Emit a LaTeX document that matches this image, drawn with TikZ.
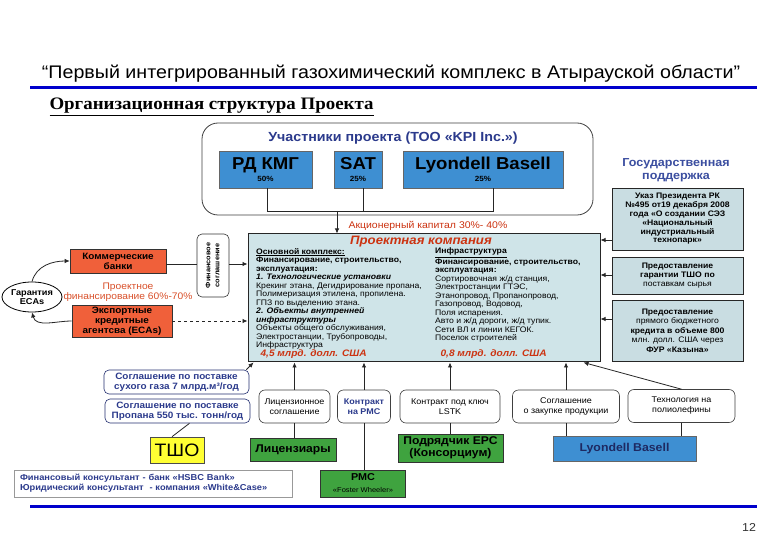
\documentclass[tikz,border=0pt]{standalone}
\usepackage{fontspec}
\usepackage{graphicx}
\setmainfont{Liberation Sans}[FakeStretch=1.08]
\newfontfamily\serifbold{Liberation Serif}[FakeStretch=1.08]
\usetikzlibrary{arrows.meta,shapes.geometric,calc}
\newcommand\myfs[2]{\fontsize{#1}{#2}\selectfont}
\definecolor{partblue}{HTML}{3E8FD2}
\definecolor{navy}{HTML}{2B3A8C}
\definecolor{govtxt}{HTML}{3B4EA0}
\definecolor{pcfill}{HTML}{CFE4E8}
\definecolor{govfill}{HTML}{C9DDE2}
\definecolor{redor}{HTML}{F0603A}
\definecolor{redtxt}{HTML}{CC3311}
\definecolor{orangetxt}{HTML}{D9502A}
\definecolor{grn}{HTML}{3FA33F}
\definecolor{ylw}{HTML}{FFFF33}
\definecolor{lineblue}{HTML}{0000CC}
\begin{document}
\begin{tikzpicture}[x=1pt,y=-1pt,
  conn/.style={draw=black!85, line width=0.8pt},
  arr/.style={conn, -{Latex[length=5pt,width=4.5pt]}},
  pbox/.style={fill=partblue, draw=black!60, line width=0.5pt, inner sep=0pt, align=center},
  gbox/.style={fill=govfill, draw=black!85, line width=0.8pt, minimum width=131pt, inner sep=0pt, align=center, font=\myfs{8}{8.8}},
  obox/.style={fill=redor, draw=black!80, line width=0.6pt, inner sep=0pt, align=center, font=\bfseries\myfs{9.2}{10.2}},
  abox/.style={draw=black!75, fill=white, rounded corners=6pt, line width=0.6pt, inner sep=0pt, align=center, minimum height=33pt, font=\myfs{8.3}{10}},
  sbox/.style={draw=navy!80!black, fill=white, rounded corners=5pt, line width=0.6pt, inner sep=0pt, align=center, minimum width=145pt, minimum height=24pt, text=navy, font=\bfseries\myfs{9.2}{10.5}},
  gbx/.style={fill=grn, draw=black!80, line width=0.6pt, inner sep=0pt, align=center}
]
\useasboundingbox (0,0) rectangle (780,540);
\fill[white] (0,0) rectangle (780,540);

% title
\node[font=\myfs{18.2}{20}] (title) at (391,74) {“Первый интегрированный газохимический комплекс в Атырауской области”};
\draw[lineblue, line width=3pt] (30,88) -- (757,88);
\node[anchor=west, font=\serifbold\bfseries\myfs{17.5}{18}] (subtitle) at (46,107) {\underline{Организационная структура Проекта}};

% participants
\node[draw=black!75, line width=0.8pt, rounded corners=16pt, minimum width=391pt, minimum height=92pt] (part) at (397.5,169) {};
\node[font=\bfseries\myfs{13.2}{14}, text=navy] (parttitle) at (393,138) {Участники проекта (ТОО «KPI Inc.»)};
\node[pbox, minimum width=93pt, minimum height=37pt] (rd) at (265.5,169.5) {{\bfseries\myfs{17.2}{17}РД КМГ}\\[0pt]{\bfseries\myfs{7.5}{8}50\%}};
\node[pbox, minimum width=48pt, minimum height=37pt] (sat) at (358,169.5) {{\bfseries\myfs{17.2}{17}SAT}\\[0pt]{\bfseries\myfs{7.5}{8}25\%}};
\node[pbox, minimum width=160pt, minimum height=37pt] (lyb1) at (483,169.5) {{\bfseries\myfs{17.2}{17}Lyondell Basell}\\[0pt]{\bfseries\myfs{7.5}{8}25\%}};
\coordinate (bus) at (337,211);
\draw[conn] ([xshift=2pt]rd.south) |- (bus);
\draw[conn] ([xshift=5pt]sat.south) |- (bus);
\draw[conn] ([xshift=10pt]lyb1.south) |- (bus);

\node[anchor=west, text=redtxt, font=\myfs{9.7}{10}] (akcap) at (345,226) {Акционерный капитал 30\%- 40\%};

% project company
\node[draw=black!85, line width=1pt, fill=pcfill, minimum width=352pt, minimum height=128pt, inner sep=0pt] (pc) at (424,298) {};
\draw[arr] (bus) -- (bus |- pc.north);
\node[text=redtxt, font=\bfseries\itshape\myfs{12.2}{13}] (pctitle) at (421,242) {Проектная компания};
\node[anchor=north west, align=left, font=\myfs{8}{8.5}, inner sep=0pt] (colL) at (256,248) {%
\textbf{\underline{Основной комплекс:}}\\
\textbf{Финансирование, строительство,}\\
\textbf{эксплуатация:}\\
\textbf{\textit{1. Технологические установки}}\\
Крекинг этана, Дегидрирование пропана,\\
Полимеризация этилена, пропилена.\\
ГПЗ по выделению этана.\\
\textbf{\textit{2. Объекты внутренней}}\\
\textbf{\textit{инфраструктуры}}\\
Объекты общего обслуживания,\\
Электростанции, Трубопроводы,\\
Инфраструктура};
\node[anchor=north west, align=left, font=\myfs{8}{8.5}, inner sep=0pt] (colR) at (435,248) {%
\textbf{\underline{Инфраструктура}}\\
\textbf{Финансирование, строительство,}\\
\textbf{эксплуатация:}\\
Сортировочная ж/д станция,\\
Электростанции ГТЭС,\\
Этанопровод, Пропанопровод,\\
Газопровод, Водовод,\\
Поля испарения.\\
Авто и ж/д дороги, ж/д тупик.\\
Сети ВЛ и линии КЕГОК.\\
Поселок строителей};
\node[anchor=west, text=redtxt, font=\bfseries\itshape\myfs{9.4}{10}] (amtL) at (257,354) {4,5 млрд. долл. США};
\node[anchor=west, text=redtxt, font=\bfseries\itshape\myfs{9.4}{10}] (amtR) at (437,354) {0,8 млрд. долл. США};

% government support
\node[font=\bfseries\myfs{11.6}{13}, text=govtxt, align=center] (govt) at (676,170) {Государственная\\поддержка};
\node[gbox, minimum height=62pt] (gov1) at (677.5,219) {\textbf{Указ Президента РК}\\\textbf{№495 от19 декабря 2008}\\\textbf{года «О создании СЭЗ}\\\textbf{«Национальный}\\\textbf{индустриальный}\\\textbf{технопарк»}};
\node[gbox, minimum height=37pt, font=\myfs{8}{9}] (gov2) at (677.5,275.5) {\textbf{Предоставление}\\\textbf{гарантии ТШО по}\\поставкам сырья};
\node[gbox, minimum height=61pt, font=\myfs{8}{9.5}] (gov3) at (677.5,330.5) {\textbf{Предоставление}\\прямого бюджетного\\\textbf{кредита в объеме 800}\\млн. долл. США через\\\textbf{ФУР «Казына»}};
\coordinate (g1) at (0,240);
\coordinate (g2) at (0,275);
\coordinate (g3) at (0,319);
\draw[arr] (gov1.west |- g1) -- (pc.east |- g1);
\draw[arr] (gov2.west |- g2) -- (pc.east |- g2);
\draw[arr] (gov3.west |- g3) -- (pc.east |- g3);

% left side financing
\node[obox, minimum width=96pt, minimum height=24pt] (banks) at (118,261) {Коммерческие\\банки};
\node[obox, minimum width=100pt, minimum height=32pt] (ecas) at (122,321) {Экспортные\\кредитные\\агентсва (ECAs)};
\node[draw=black!80, fill=white, rounded corners=5pt, line width=0.6pt, minimum width=32pt, minimum height=63pt, inner sep=0pt, font=\bfseries\myfs{6.8}{9}] (finsog) at (213,265.5) {\rotatebox{90}{\begin{tabular}{@{}c@{}}Финансовое\\соглашение\end{tabular}}};
\node[text=orangetxt, align=center, font=\myfs{9.5}{10.5}] (pfin) at (128,292) {Проектное\\финансирование 60\%-70\%};
\node[ellipse, draw=black, fill=white, line width=0.8pt, minimum width=60pt, minimum height=30pt, inner sep=0pt, align=center, font=\bfseries\myfs{8.5}{9.5}] (garant) at (32,297) {Гарантия\\ECAs};
\coordinate (r1) at (0,264);
\draw[conn] (banks.east |- r1) -- (finsog.west |- r1);
\draw[arr] (finsog.east |- r1) -- (pc.west |- r1);
\draw[arr, dashed] (ecas.east) -- (pc.west |- ecas.east);
\draw[arr] (garant.north) to[out=75, in=180] (banks.west);
\draw[arr] (ecas.west) to[out=180, in=-75] (garant.south);

% supply agreements
\node[sbox] (dry) at (176.5,382) {Соглашение по поставке\\сухого газа 7 млрд.м³/год};
\node[sbox] (prop) at (177.5,411) {Соглашение по поставке\\Пропана 550 тыс. тонн/год};
\draw[arr] ([xshift=-3pt]dry.north east) -- ([xshift=6pt]pc.south west);

% bottom agreements
\node[abox, minimum width=71pt] (lic) at (294.5,406.5) {Лицензионное\\соглашение};
\node[abox, minimum width=53pt, text=navy, font=\bfseries\myfs{8.3}{10}] (pmccon) at (364,406.5) {Контракт\\на PMC};
\node[abox, minimum width=100pt] (lstk) at (450,406.5) {Контракт под ключ\\LSTK};
\node[abox, minimum width=107pt] (zak) at (566,406.5) {Соглашение\\о закупке продукции};
\node[abox, minimum width=107pt] (tech) at (681.5,406) {Технология на\\полиолефины};

% bottom parties
\node[fill=ylw, draw=black!70, line width=0.6pt, minimum width=54pt, minimum height=26pt, inner sep=0pt, font=\myfs{18}{18}] (tsho) at (177,450) {ТШО};
\node[gbx, minimum width=86pt, minimum height=23pt, font=\bfseries\myfs{11.2}{12}] (licz) at (293,450) {Лицензиары};
\node[gbx, minimum width=105pt, minimum height=28pt, font=\bfseries\myfs{11.2}{12}] (epc) at (450.5,448) {Подрядчик EPC\\(Консорциум)};
\node[gbx, minimum width=85pt, minimum height=27pt] (pmc) at (363,483.5) {{\bfseries\myfs{10}{11}PMC}\\{\myfs{7}{8}«Foster Wheeler»}};
\node[pbox, minimum width=143pt, minimum height=25pt, font=\bfseries\myfs{11.4}{12}, text=navy!70!black] (lyb2) at (624.5,448.5) {Lyondell Basell};
\node[draw=black!40, fill=white, line width=0.6pt, text width=266pt, inner xsep=6pt, inner ysep=0pt, minimum height=27pt, align=left, text=navy, font=\bfseries\myfs{8.6}{10}] (cons) at (153,483.5) {Финансовый консультант - банк «HSBC Bank»\\Юридический консультант~ - компания «White\&Case»};

\draw[conn] ([xshift=-5pt]tsho.north) -- ([xshift=12pt]prop.south);
\draw[arr] (lic.north) -- (lic.north |- pc.south);
\draw[conn] (lic.south) -- (lic.south |- licz.north);
\draw[arr] (pmccon.north) -- (pmccon.north |- pc.south);
\draw[conn] (pmccon.south) -- (pmccon.south |- pmc.north);
\draw[arr] (lstk.north) -- (lstk.north |- pc.south);
\draw[conn] (lstk.south) -- (lstk.south |- epc.north);
\draw[arr] (zak.north) -- (zak.north |- pc.south);
\draw[conn] (zak.south) -- (zak.south |- lyb2.north);
\draw[conn] (tech.south) -- (tech.south |- lyb2.north);
\draw[arr] (tech.north) -- ([xshift=-17pt]pc.south east);

% footer
\draw[lineblue, line width=3pt] (30,506) -- (757,506);
\node[font=\myfs{11.5}{12}, text=black!80] (pnum) at (749,527) {12};
\end{tikzpicture}
\end{document}
